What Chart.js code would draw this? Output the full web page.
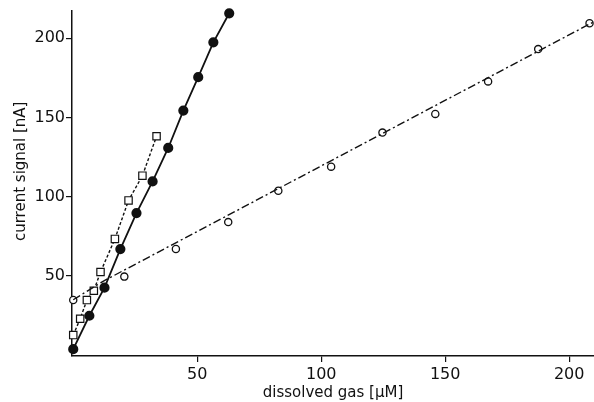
<!DOCTYPE html>
<html>
<head>
<meta charset="utf-8">
<script src="https://cdn.jsdelivr.net/npm/chart.js@4.4.0/dist/chart.umd.min.js"></script>
<style>
  html, body { margin: 0; padding: 0; background: #fff; }
  #wrap { width: 594px; height: 402px; }
</style>
</head>
<body>
<div id="wrap"><canvas id="gasChart" width="594" height="402"></canvas></div>
<script>
// filled circles, solid line
const filled_x = [0, 6.5, 12.6, 19, 25.5, 32, 38.3, 44.4, 50.4, 56.5, 62.9];
const filled_y = [3.8, 24.9, 42.6, 67, 89.7, 109.7, 130.8, 154.4, 175.5, 197.5, 215.8];

// open squares, dotted line
const square_x = [0, 2.8, 5.5, 8.3, 11, 16.8, 22.3, 27.9, 33.6];
const square_y = [12.7, 23, 34.8, 40.7, 52.5, 73.4, 97.7, 113.3, 138.2];

// open circles (points only)
const open_x = [0, 20.6, 41.4, 62.5, 82.7, 104, 124.7, 146, 167.3, 187.5, 208.2];
const open_y = [34.8, 49.6, 67, 84, 103.8, 119, 140.5, 152.3, 172.8, 193.2, 209.5];

// dash-dot fitted line for the open circles
const open_fit_x = [0, 12.2, 210];
const open_fit_y = [35, 46.8, 210.5];

const x_ticks = [50, 100, 150, 200];
const y_ticks = [50, 100, 150, 200];

const x_title = "dissolved gas [μM]";
const y_title = "current signal [nA]";

function toPoints(xs, ys) {
  let pts = [];
  for (let i = 0; i < xs.length; i++) {
    pts.push({ x: xs[i], y: ys[i] });
  }
  return pts;
}

const ink = "#111";
const tickFont = { family: "DejaVu Sans", size: 16 };
const titleFont = { family: "DejaVu Sans", size: 15 };

// y title drawn by hand so it sits a bit above the middle like the original
const yTitlePlugin = {
  id: "yTitle",
  afterDraw(chart) {
    const c = chart.ctx;
    const area = chart.chartArea;
    c.save();
    c.fillStyle = ink;
    c.font = titleFont.size + "px " + titleFont.family;
    c.textAlign = "center";
    c.textBaseline = "middle";
    c.translate(21, (area.top + area.bottom) / 2 - 12);
    c.rotate(-Math.PI / 2);
    c.fillText(y_title, 0, 0);
    c.restore();
  },
};

new Chart(document.getElementById("gasChart"), {
  type: "scatter",
  data: {
    datasets: [
      {
        label: "open fit",
        data: toPoints(open_fit_x, open_fit_y),
        showLine: true,
        borderColor: ink,
        borderWidth: 1.4,
        borderDash: [8, 3, 2, 3],
        pointRadius: 0,
      },
      {
        label: "open",
        data: toPoints(open_x, open_y),
        showLine: false,
        pointStyle: "circle",
        pointRadius: 3.6,
        pointBorderWidth: 1.3,
        pointBackgroundColor: "#fff",
        pointBorderColor: ink,
      },
      {
        label: "square",
        data: toPoints(square_x, square_y),
        showLine: true,
        borderColor: ink,
        borderWidth: 1.4,
        borderDash: [3, 2],
        pointStyle: "rect",
        pointRadius: 5.2,
        pointBorderWidth: 1.2,
        pointBackgroundColor: "#fff",
        pointBorderColor: ink,
      },
      {
        label: "filled",
        data: toPoints(filled_x, filled_y),
        showLine: true,
        borderColor: ink,
        borderWidth: 1.8,
        pointStyle: "circle",
        pointRadius: 4.2,
        pointBackgroundColor: ink,
        pointBorderColor: ink,
      },
    ],
  },
  options: {
    responsive: false,
    animation: false,
    clip: false,
    layout: { autoPadding: false, padding: { top: 10, right: 0, left: 0, bottom: 0 } },
    plugins: { legend: { display: false }, tooltip: { enabled: false } },
    scales: {
      x: {
        type: "linear",
        min: -0.5,
        max: 210,
        afterBuildTicks: (axis) => { axis.ticks = x_ticks.map((v) => ({ value: v })); },
        afterFit: (axis) => { axis.height = 46; },
        grid: { drawOnChartArea: false, color: ink, tickLength: 6, lineWidth: 1.2 },
        border: { color: ink, width: 1.5 },
        ticks: { color: ink, font: tickFont, padding: 3, maxRotation: 0 },
        title: { display: true, text: x_title, color: ink, font: titleFont, padding: { top: 1, bottom: 0 } },
      },
      y: {
        type: "linear",
        min: -0.5,
        max: 217.5,
        afterBuildTicks: (axis) => { axis.ticks = y_ticks.map((v) => ({ value: v })); },
        afterFit: (axis) => { axis.width = 72; },
        grid: { drawOnChartArea: false, color: ink, tickLength: 6, lineWidth: 1.2 },
        border: { color: ink, width: 1.5 },
        ticks: { color: ink, font: tickFont, padding: 1 },
      },
    },
  },
  plugins: [yTitlePlugin],
});
</script>
</body>
</html>
